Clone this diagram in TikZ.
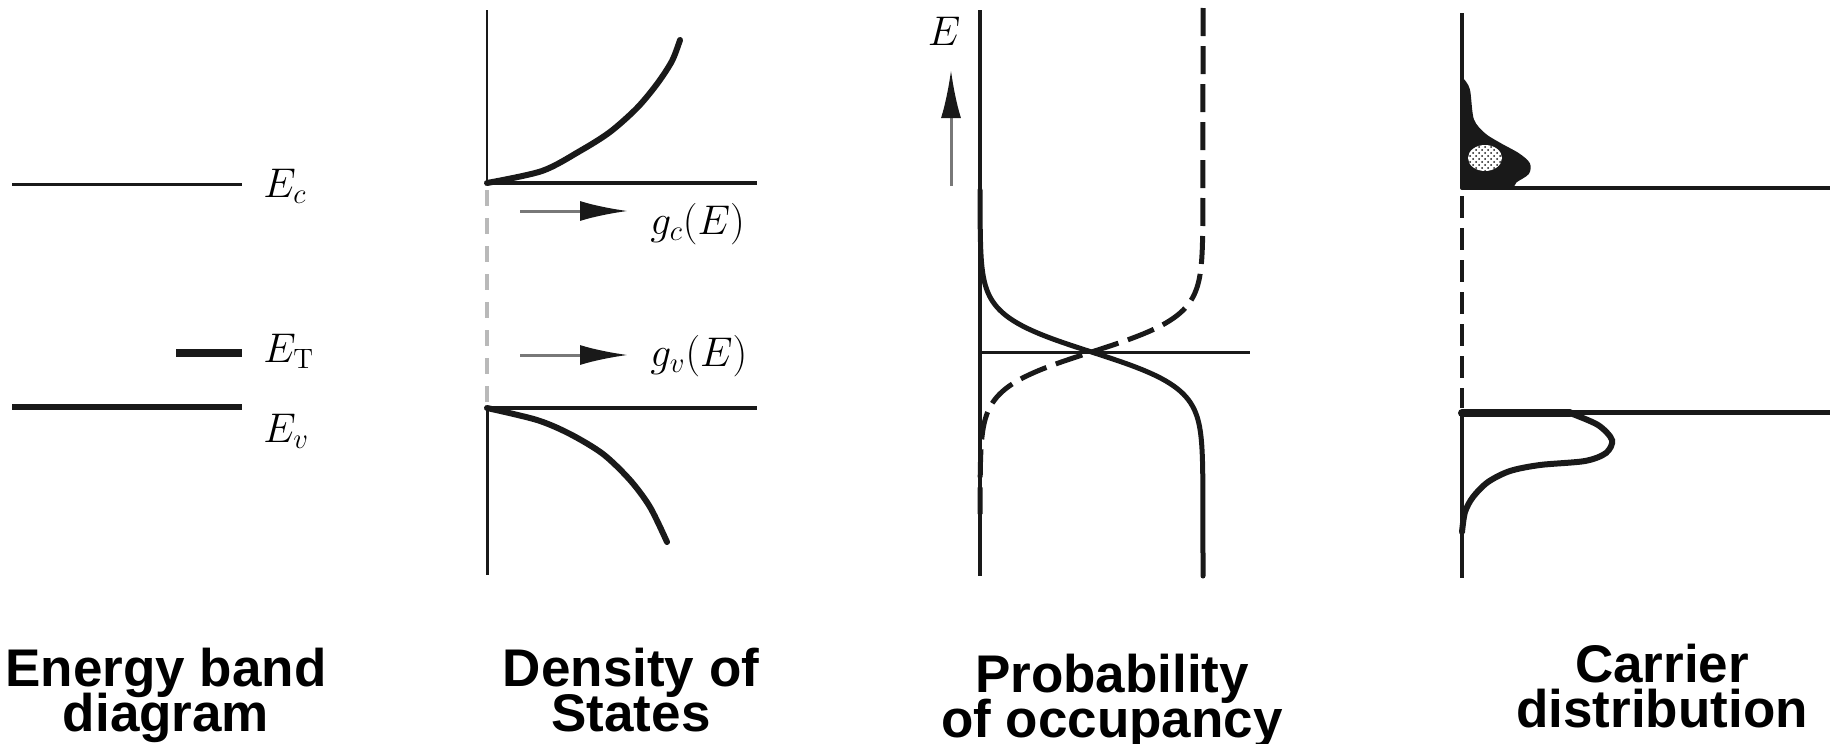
\documentclass[tikz,border=0pt]{standalone}
\usepackage{fontspec}
\setsansfont{Liberation Sans}
\usepackage{xcolor}
\definecolor{inkBlack}{RGB}{25, 25, 25}
\definecolor{faintGray}{RGB}{185, 185, 185}
\definecolor{shaftGray}{RGB}{120, 120, 120}
\usetikzlibrary{arrows.meta, positioning, calc, patterns}
\newcommand{\titleFont}{\sffamily\bfseries\fontsize{26.5}{22.5}\selectfont\lineskiplimit=-50pt\relax}
\tikzset{
    level/.style={draw=inkBlack, line width=1.5pt},
    axis/.style={draw=inkBlack, line width=1.5pt},
    curve/.style={draw=inkBlack, line width=3pt, line cap=round},
    gArrow/.style={draw=shaftGray, line width=1.5pt, -{Latex[length=24pt, width=10pt, color=inkBlack]}},
    mathLabel/.style={inner sep=0pt, font=\fontsize{20}{24}\selectfont},
    title/.style={inner sep=0pt, anchor=north, align=center, font=\titleFont}
}

\begin{document}
\begin{tikzpicture}[x=0.5pt, y=-0.5pt]
    \useasboundingbox (0,0) rectangle (1833,744);

    % --- ENERGY BAND DIAGRAM ---
    \coordinate (ecA) at (12,184);  \coordinate (ecB) at (242,184);
    \coordinate (etA) at (176,353); \coordinate (etB) at (242,353);
    \coordinate (evA) at (12,407);  \coordinate (evB) at (242,407);
    \draw[level] (ecA) -- (ecB);
    \draw[level, line width=4pt] (etA) -- (etB);
    \draw[level, line width=3pt] (evA) -- (evB);
    \node[mathLabel, anchor=base west] (ecLab) at (263,197) {$E_c$};
    \node[mathLabel, anchor=base west] (etLab) at (263,362) {$E_\mathrm{T}$};
    \node[mathLabel, anchor=base west] (evLab) at (263,442) {$E_v$};

    % --- DENSITY OF STATES ---
    \draw[axis, line width=1pt] (487,10) -- (487,183);
    \draw[axis, draw=faintGray, line width=2pt, dash pattern=on 8pt off 6pt] (487,190) -- (487,404);
    \draw[axis] (487,408) -- (487,575);
    \draw[level, line width=2pt] (487,183) -- (757,183);
    \draw[level, line width=2pt] (487,408) -- (757,408);
    \draw[curve] plot[smooth] coordinates {(487,183) (542,171) (580,151) (610,132) (637,108) (657,84) (672,61) (680,40)};
    \draw[curve] plot[smooth] coordinates {(487,408) (537,420) (570,434) (603,454) (630,480) (650,507) (667,542)};

    \coordinate (gcTail) at (520,211); \coordinate (gcHead) at (628,211);
    \coordinate (gvTail) at (520,355); \coordinate (gvHead) at (628,355);
    \draw[gArrow] (gcTail) -- (gcHead);
    \draw[gArrow] (gvTail) -- (gvHead);
    \node[mathLabel, anchor=west] (gcLab) at (650,224) {$g_c(E)$};
    \node[mathLabel, anchor=west] (gvLab) at (650,356) {$g_v(E)$};

    % --- PROBABILITY OF OCCUPANCY ---
    \node[mathLabel] (eAxis) at (944,31) {$E$};
    \coordinate (eTail) at (951,186); \coordinate (eHead) at (951,70);
    \draw[gArrow] (eTail) -- (eHead);
    \draw[axis, line width=2pt] (980,10) -- (980,576);
    \draw[level] (980,352) -- (1250,352);
    \draw[curve, line width=2.5pt] plot[domain=190:514, samples=120, variable=\t] ({980+223/(1+exp((352-\t)/18))}, \t) -- (1203,576);
    \draw[curve, line width=2.5pt, line cap=butt, dash pattern=on 14pt off 5pt] (1203,8) -- plot[domain=190:514, samples=120, variable=\t] ({980+223/(1+exp((\t-352)/18))}, \t);

    % --- CARRIER DISTRIBUTION ---
    \draw[axis, line width=2pt] (1462,13) -- (1462,188);
    \draw[axis, line width=2pt, dash pattern=on 11pt off 5pt] (1462,196) -- (1462,408);
    \draw[axis, line width=2pt] (1462,412) -- (1462,578);
    \draw[level, line width=2pt] (1462,188) -- (1830,188);
    \draw[level, line width=2.5pt] (1462,412) -- (1830,412);
    % electrons above Ec
    \filldraw[fill=inkBlack, draw=inkBlack, line width=2pt, line join=round]
        plot[smooth] coordinates {(1462,80) (1468,90) (1472,120) (1484,135) (1500,145) (1518,155) (1528,164) (1527,173) (1515,181) (1512,187)} -- (1462,188) -- cycle;
    \fill[white] (1485,158) ellipse (17 and 13);
    \fill[pattern=crosshatch dots, pattern color=inkBlack] (1485,158) ellipse (17 and 13);
    % holes below Ev
    \draw[curve, line width=4pt] (1462,413) -- (1570,413);
    \draw[curve] plot[smooth] coordinates {(1570,413) (1598,425) (1612,440) (1606,453) (1585,461) (1540,465) (1510,471) (1488,482) (1473,497) (1465,512) (1462,532)};

    % --- TITLES ---
    \node[title] (bandTitle) at (166,648) {Energy band\\diagram};
    \node[title] (dosTitle) at (631,648) {Density of\\States};
    \node[title] (occTitle) at (1112,654) {Probability\\of occupancy};
    \node[title] (carTitle) at (1662,644) {Carrier\\distribution};

\end{tikzpicture}
\end{document}
